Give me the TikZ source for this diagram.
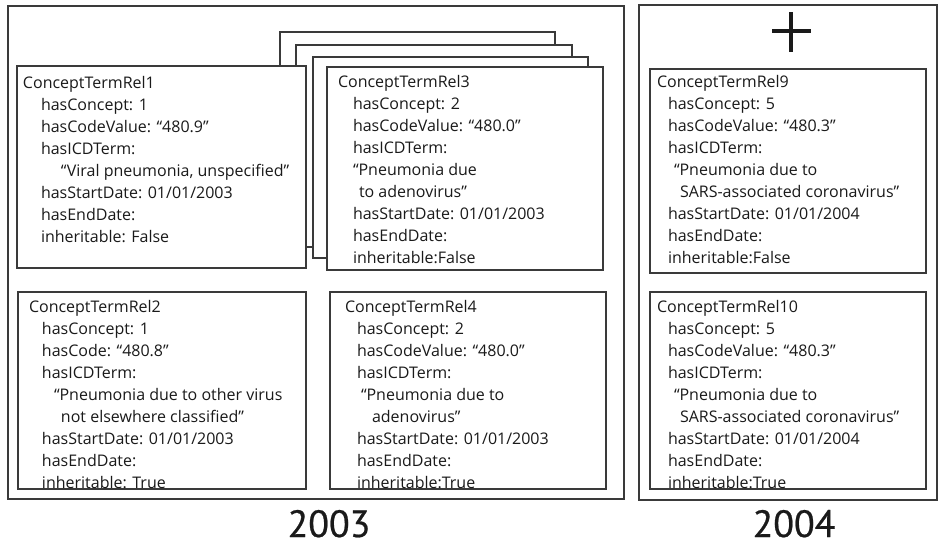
\documentclass[tikz,border=0pt]{standalone}
\usepackage{fontspec}
\setmainfont{Open Sans}
\newfontfamily\yearfont[FakeBold=0.6]{PT Sans}
\definecolor{ink}{HTML}{1A1A1A}
\definecolor{edge}{HTML}{3A3A3A}
\newcommand\Lines[1]{\vtop{\baselineskip=22pt\lineskiplimit=-20pt\lineskip=0pt #1}}
\newcommand\Ln[2]{\hbox{\kern#1pt\relax #2}}
\tikzset{
  panel/.style={draw=edge, line width=1.3pt, fill=white, inner sep=0pt, outer sep=0pt, anchor=north west},
  txt/.style={anchor=base west, inner sep=0pt, outer sep=0pt, text=ink, font=\fontsize{16}{22}\selectfont},
  year/.style={anchor=base, inner sep=0pt, text=ink, font=\yearfont\fontsize{38}{40}\selectfont}
}
\begin{document}
\begin{tikzpicture}[x=1pt,y=-1pt]
\useasboundingbox (0,0) rectangle (943,544);
% outer panels
\node[panel, minimum width=616pt, minimum height=493pt] (y2003) at (8,6) {};
\node[panel, minimum width=298pt, minimum height=495pt] (y2004) at (639,5) {};
% stacked cards
\node[panel, minimum width=275pt, minimum height=202pt] (stackA) at (280,32) {};
\node[panel, minimum width=276pt, minimum height=202pt] (stackB) at (296,45) {};
\node[panel, minimum width=275pt, minimum height=201pt] (stackC) at (313,57) {};
\node[panel, minimum width=276pt, minimum height=203pt] (ctr3) at (327,67) {};
\node[panel, minimum width=289pt, minimum height=202pt] (ctr1) at (17,66) {};
\node[panel, minimum width=288pt, minimum height=197pt] (ctr2) at (18,292) {};
\node[panel, minimum width=276pt, minimum height=197pt] (ctr4) at (330,292) {};
\node[panel, minimum width=276pt, minimum height=204pt] (ctr9) at (650,69) {};
\node[panel, minimum width=276pt, minimum height=197pt] (ctr10) at (650,292) {};
% texts
\node[txt] (t1) at (23,88) {\Lines{%
\Ln{0}{ConceptTermRel1}
\Ln{18}{hasConcept: 1}
\Ln{18}{hasCodeValue: “480.9”}
\Ln{18}{hasICDTerm:}
\Ln{38}{“Viral pneumonia, unspecified”}
\Ln{18}{hasStartDate: 01/01/2003}
\Ln{18}{hasEndDate:}
\Ln{18}{inheritable: False}}};
\node[txt] (t3) at (338,87) {\Lines{%
\Ln{0}{ConceptTermRel3}
\Ln{15}{hasConcept: 2}
\Ln{15}{hasCodeValue: “480.0”}
\Ln{15}{hasICDTerm:}
\Ln{15}{“Pneumonia due}
\Ln{21}{to adenovirus”}
\Ln{15}{hasStartDate: 01/01/2003}
\Ln{15}{hasEndDate:}
\Ln{15}{inheritable:False}}};
\node[txt] (t2) at (29,312) {\Lines{%
\Ln{0}{ConceptTermRel2}
\Ln{13}{hasConcept: 1}
\Ln{13}{hasCode: “480.8”}
\Ln{13}{hasICDTerm:}
\Ln{25}{“Pneumonia due to other virus}
\Ln{32}{not elsewhere classified”}
\Ln{13}{hasStartDate: 01/01/2003}
\Ln{13}{hasEndDate:}
\Ln{13}{inheritable: True}}};
\node[txt] (t4) at (345,312) {\Lines{%
\Ln{0}{ConceptTermRel4}
\Ln{12}{hasConcept: 2}
\Ln{12}{hasCodeValue: “480.0”}
\Ln{12}{hasICDTerm:}
\Ln{16}{“Pneumonia due to}
\Ln{27}{adenovirus”}
\Ln{12}{hasStartDate: 01/01/2003}
\Ln{12}{hasEndDate:}
\Ln{12}{inheritable:True}}};
\node[txt] (t9) at (657,87) {\Lines{%
\Ln{0}{ConceptTermRel9}
\Ln{11}{hasConcept: 5}
\Ln{11}{hasCodeValue: “480.3”}
\Ln{11}{hasICDTerm:}
\Ln{17}{“Pneumonia due to}
\Ln{23}{SARS-associated coronavirus”}
\Ln{11}{hasStartDate: 01/01/2004}
\Ln{11}{hasEndDate:}
\Ln{11}{inheritable:False}}};
\node[txt] (t10) at (657,312) {\Lines{%
\Ln{0}{ConceptTermRel10}
\Ln{11}{hasConcept: 5}
\Ln{11}{hasCodeValue: “480.3”}
\Ln{11}{hasICDTerm:}
\Ln{17}{“Pneumonia due to}
\Ln{23}{SARS-associated coronavirus”}
\Ln{11}{hasStartDate: 01/01/2004}
\Ln{11}{hasEndDate:}
\Ln{11}{inheritable:True}}};
% plus sign
\coordinate (pl) at (772,31);
\coordinate (pr) at (811,31);
\coordinate (pt) at (791,12);
\coordinate (pb) at (791,52);
\draw[line width=3.4pt, ink] (pl) -- (pr) (pt) -- (pb);
% year labels
\node[year] (l2003) at (329,537) {2003};
\node[year] (l2004) at (794,537) {2004};
\end{tikzpicture}
\end{document}
